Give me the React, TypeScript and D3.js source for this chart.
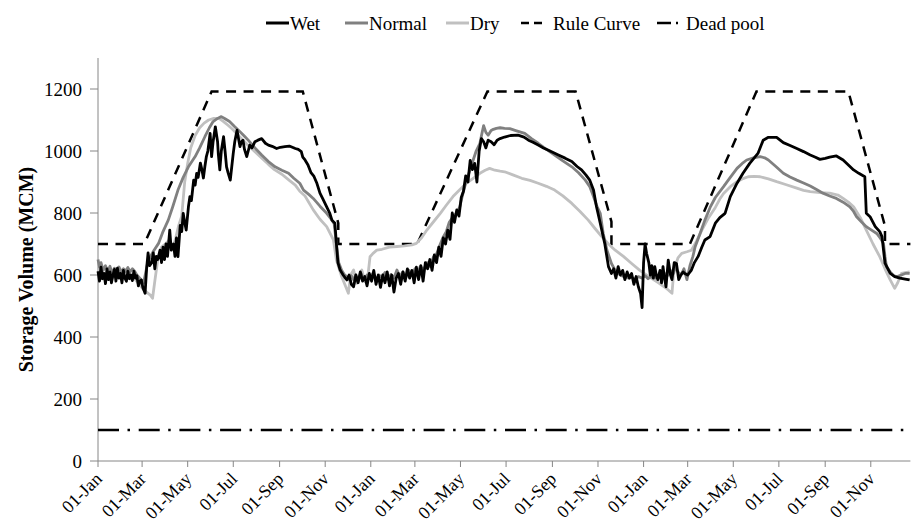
import React from 'react';
import * as d3 from 'd3';

const W = 911, H = 528;
const FONT = 'Liberation Serif, Times New Roman, serif';

const yTicks = [0, 200, 400, 600, 800, 1000, 1200];
const monthOffsets = [0, 59, 120, 181, 243, 304];
const monthLabels = ['01-Jan', '01-Mar', '01-May', '01-Jul', '01-Sep', '01-Nov'];
const yearOffsets = [0, 365, 730];
const seriesNames = ['Wet', 'Normal', 'Dry', 'Rule Curve', 'Dead pool'];

const wet: [number, number][] = [
  [0,612],[2,580],[4,625],[6,588],[8,605],[10,572],[12,620],[14,585],[16,610],[18,575],[20,600],[22,618],[24,580],[26,622],[28,590],[30,605],[32,575],[34,615],[36,590],[38,580],[40,612],[42,588],[44,600],[46,582],[48,612],[50,590],[52,598],[54,565],[56,580],[58,584],[60,560],[63,541],[65,620],[67,671],[69,630],[72,640],[74,671],[76,620],[78,660],[80,650],[83,680],[85,640],[87,690],[89,650],[91,700],[93,660],[96,745],[98,680],[101,700],[103,660],[105,720],[107,659],[110,760],[112,740],[114,799],[116,770],[118,745],[121,820],[123,853],[125,840],[128,906],[130,890],[132,928],[134,915],[137,961],[139,940],[141,913],[143,950],[145,982],[147,1000],[150,1057],[152,982],[154,1030],[157,1078],[160,1030],[161,990],[163,939],[165,1000],[168,1046],[170,1000],[172,949],[174,930],[177,906],[179,950],[181,993],[183,1030],[186,1067],[188,1040],[190,1014],[192,1030],[194,1035],[196,1005],[199,982],[201,1000],[203,1019],[206,1010],[210,1030],[214,1035],[219,1040],[224,1025],[228,1019],[233,1015],[239,1008],[244,1012],[250,1014],[256,1016],[260,1012],[264,1008],[268,1005],[272,998],[274,980],[277,971],[281,955],[285,930],[289,918],[293,895],[297,864],[301,845],[306,820],[310,800],[313,777],[317,767],[319,700],[321,640],[324,616],[328,600],[331,590],[333,584],
  [336,600],[339,570],[342,562],[345,600],[348,575],[351,610],[354,580],[357,595],[360,565],[363,605],[366,580],[369,615],[372,570],[375,600],[378,560],[381,600],[384,575],[387,610],[390,565],[393,600],[396,545],[399,590],[402,605],[405,570],[408,610],[411,580],[414,620],[417,590],[420,615],[423,575],[426,625],[429,585],[432,630],[435,580],[438,640],[441,620],[444,650],[447,615],[450,665],[453,640],[456,690],[459,660],[462,720],[465,700],[468,745],[471,715],[474,800],[477,770],[480,810],[483,790],[486,850],[489,870],[492,920],[495,900],[498,970],[501,940],[504,960],[507,900],[510,1000],[513,1040],[516,1030],[519,1010],[522,1035],[526,1030],[530,1020],[534,1035],[538,1040],[544,1045],[552,1050],[562,1051],[570,1045],[576,1035],[582,1028],[589,1019],[596,1010],[602,1003],[609,995],[616,987],[625,977],[634,966],[641,950],[647,939],[653,922],[658,906],[663,874],[667,820],[672,767],[678,702],[683,627],[687,605],[690,620],[693,590],[696,627],[699,600],[702,615],[705,585],[708,610],[711,590],[714,605],[717,570],[720,595],[723,562],[726,540],[728,495],[730,640],[732,700],[734,670],[737,640],[739,600],[741,630],[743,590],[745,627],[747,600],[749,585],[752,615],[754,575],[756,627],[758,590],[760,562],[763,648],[766,600],[768,585],[771,640],[774,637],[777,585],[780,600],[783,610],[785,605],[789,600],[794,616],[798,640],[803,660],[808,690],[812,713],[819,724],[826,767],[832,785],[839,799],[846,853],[855,896],[863,928],[872,960],[883,992],[890,1035],[897,1044],[908,1044],[917,1027],[926,1018],[935,1008],[944,998],[953,987],[960,980],[966,973],[973,976],[979,980],[988,984],[997,971],[1004,955],[1011,939],[1018,928],[1026,917],[1028,799],[1033,788],[1040,756],[1046,740],[1049,724],[1053,638],[1060,605],[1066,595],[1073,590],[1080,587],[1086,584],
];

const normal: [number, number][] = [
  [0,650],[2,625],[4,640],[7,615],[10,630],[13,612],[16,628],[19,606],[22,622],[25,612],[28,626],[31,610],[34,620],[37,612],[40,624],[43,610],[46,620],[49,612],[52,600],[55,592],[58,584],[61,574],[64,610],[67,645],[70,659],[75,680],[81,702],[87,740],[94,777],[100,820],[107,874],[114,915],[121,949],[130,982],[136,1010],[143,1046],[149,1075],[154,1095],[160,1105],[165,1111],[170,1104],[176,1095],[183,1078],[190,1062],[197,1045],[201,1035],[210,1010],[219,987],[228,966],[237,949],[246,938],[255,928],[262,912],[270,896],[275,874],[282,860],[288,847],[297,822],[306,799],[312,780],[316,765],[319,700],[322,640],[326,615],[330,600],[333,595],[336,585],
  [339,598],[342,584],[345,600],[348,578],[352,605],[356,585],[360,600],[364,590],[368,606],[372,585],[376,600],[380,592],[384,608],[388,586],[392,602],[396,590],[400,616],[404,596],[408,610],[412,592],[416,615],[420,600],[424,620],[428,608],[431,627],[436,618],[440,640],[444,628],[449,659],[453,668],[458,700],[462,723],[466,740],[470,770],[475,788],[480,800],[484,820],[488,860],[493,906],[498,940],[502,971],[506,1000],[511,1025],[514,1060],[516,1082],[519,1060],[522,1051],[526,1066],[529,1070],[533,1073],[538,1075],[544,1073],[551,1072],[560,1065],[571,1057],[580,1040],[589,1025],[600,1005],[611,987],[622,968],[634,949],[643,930],[652,906],[658,885],[663,853],[667,825],[672,799],[676,734],[681,680],[687,637],[692,615],[696,605],[700,598],[705,595],[710,590],[714,592],[719,585],[723,595],[728,590],[732,598],[736,588],[740,595],[745,590],[750,600],[754,595],[758,605],[762,598],[766,615],[770,605],[772,627],[776,610],[780,600],[784,620],[788,585],[792,630],[796,660],[799,691],[805,730],[812,777],[819,818],[826,850],[837,885],[846,915],[855,944],[862,960],[868,971],[877,978],[886,982],[892,978],[897,971],[907,950],[917,928],[926,916],[935,906],[944,897],[953,887],[962,875],[970,864],[979,855],[988,847],[997,835],[1006,820],[1011,805],[1015,788],[1022,770],[1028,756],[1035,745],[1042,734],[1047,718],[1051,702],[1053,660],[1055,627],[1060,610],[1065,597],[1069,595],[1075,600],[1080,605],[1086,605],
];

const dry: [number, number][] = [
  [0,625],[5,610],[10,600],[15,605],[20,592],[25,600],[30,612],[35,615],[40,610],[45,598],[50,585],[55,570],[60,555],[65,545],[70,535],[73,525],[76,580],[80,650],[85,690],[90,700],[95,712],[100,688],[104,720],[108,760],[112,790],[116,900],[120,960],[124,1010],[130,1050],[136,1075],[142,1090],[148,1100],[155,1105],[162,1105],[168,1095],[174,1083],[180,1070],[186,1055],[192,1040],[200,1020],[210,998],[220,975],[228,957],[236,940],[246,925],[256,905],[264,890],[270,870],[277,855],[288,810],[297,780],[306,756],[315,713],[319,648],[326,595],[335,541],[338,600],[342,616],[346,573],[350,600],[353,616],[357,580],[360,573],[364,659],[368,670],[373,680],[380,683],[390,690],[400,692],[410,694],[420,697],[426,702],[433,720],[440,745],[450,775],[458,799],[466,825],[475,853],[484,875],[493,896],[502,912],[511,928],[518,938],[524,944],[531,938],[538,935],[544,933],[556,922],[567,912],[578,905],[589,896],[600,886],[611,874],[622,855],[634,831],[645,805],[656,777],[665,750],[674,724],[683,700],[692,680],[703,660],[714,637],[725,615],[737,595],[750,575],[760,558],[768,541],[770,600],[772,627],[776,655],[781,670],[788,675],[794,680],[801,710],[808,745],[817,785],[826,818],[832,845],[837,863],[846,885],[855,901],[862,910],[870,917],[878,918],[886,917],[897,910],[908,901],[920,892],[935,880],[944,873],[953,869],[966,866],[979,864],[990,858],[997,847],[1004,835],[1011,820],[1020,785],[1028,745],[1037,700],[1046,659],[1053,620],[1060,584],[1066,557],[1070,575],[1075,605],[1080,608],[1086,610],
];

const ruleCurve: [number, number][] = [
  [0,700],[62,700],[152,1192],[274,1192],[321.5,767],[321.5,700],[427,700],[521,1192],[639,1192],[687,772],[687,700],[792,700],[881,1192],[1004,1192],[1053,758],[1053,700],[1087,700],
];

const deadPool: [number, number][] = [[0,100],[1087,100]];

export default function App() {
  const x = d3.scaleLinear().domain([0, 1087]).range([98, 910.4]);
  const y = d3.scaleLinear().domain([0, 1300]).range([461, 58]);
  const line = d3.line<[number, number]>().x(d => x(d[0])).y(d => y(d[1]));

  const xTicks: { d: number; label: string }[] = [];
  yearOffsets.forEach(yo => monthOffsets.forEach((m, i) => xTicks.push({ d: yo + m, label: monthLabels[i] })));

  const axisColor = '#868686';
  const tStyle = { fontFamily: FONT };

  const legY = 23;
  const legend = [
    { name: seriesNames[0], x0: 266, x1: 289, tx: 290, stroke: '#000', dash: undefined as string | undefined, w: 3 },
    { name: seriesNames[1], x0: 345, x1: 368, tx: 369, stroke: '#808080', dash: undefined, w: 3 },
    { name: seriesNames[2], x0: 446, x1: 469, tx: 470, stroke: '#c0c0c0', dash: undefined, w: 3 },
    { name: seriesNames[3], x0: 521, x1: 545, tx: 553, stroke: '#000', dash: '8 5', w: 2.5 },
    { name: seriesNames[4], x0: 657, x1: 681, tx: 686, stroke: '#000', dash: '14 5 2 5', w: 2.5 },
  ];

  return (
    <svg width={W} height={H} style={{ position: 'absolute', left: 0, top: 0, background: '#fff' }}>
      <rect x={0} y={0} width={W} height={H} fill="#fff" />
      {legend.map(l => (
        <g key={l.name}>
          <line x1={l.x0} x2={l.x1} y1={legY} y2={legY} stroke={l.stroke} strokeWidth={l.w} strokeDasharray={l.dash} />
          <text x={l.tx} y={legY} dy="0.35em" fontSize={19} fill="#000" style={tStyle}>{l.name}</text>
        </g>
      ))}
      <line x1={98} x2={98} y1={y(1300)} y2={y(0)} stroke={axisColor} strokeWidth={1} />
      {yTicks.map(t => (
        <g key={t}>
          <line x1={90} x2={98} y1={y(t)} y2={y(t)} stroke={axisColor} strokeWidth={1} />
          <text x={82} y={y(t)} dy="0.35em" textAnchor="end" fontSize={19} fill="#000" style={tStyle}>{t}</text>
        </g>
      ))}
      <text transform={`translate(33,${(y(0) + y(1300)) / 2 + 10}) rotate(-90)`} textAnchor="middle" fontSize={20} fontWeight="bold" fill="#000" style={tStyle}>Storage Volume (MCM)</text>
      <line x1={98} x2={910.4} y1={461} y2={461} stroke={axisColor} strokeWidth={1} />
      {xTicks.map((t, i) => (
        <g key={i}>
          <line x1={x(t.d)} x2={x(t.d)} y1={461} y2={467} stroke={axisColor} strokeWidth={1} />
          <text transform={`translate(${x(t.d) + 5},${480}) rotate(-45)`} textAnchor="end" fontSize={18} fill="#000" style={tStyle}>{t.label}</text>
        </g>
      ))}
      <path d={line(deadPool) || ''} fill="none" stroke="#000" strokeWidth={2.7} strokeDasharray="21 8.5 2.5 8.7" />
      <path d={line(ruleCurve) || ''} fill="none" stroke="#000" strokeWidth={2.5} strokeDasharray="10 7.5" />
      <path d={line(dry) || ''} fill="none" stroke="#c0c0c0" strokeWidth={2.8} strokeLinejoin="round" />
      <path d={line(normal) || ''} fill="none" stroke="#808080" strokeWidth={2.8} strokeLinejoin="round" />
      <path d={line(wet) || ''} fill="none" stroke="#000" strokeWidth={2.8} strokeLinejoin="round" />
    </svg>
  );
}
